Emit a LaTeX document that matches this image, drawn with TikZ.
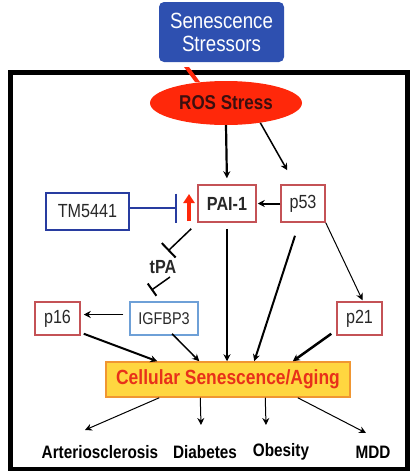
\documentclass[tikz,border=0pt]{standalone}
\usepackage{fontspec}
\setmainfont{Liberation Sans}[FakeStretch=0.85]
\usetikzlibrary{positioning,shapes.geometric,arrows.meta}
\definecolor{stressBlue}{RGB}{46,80,176}
\definecolor{rosRed}{RGB}{255,40,10}
\definecolor{rosText}{RGB}{60,15,15}
\definecolor{boxRed}{RGB}{196,82,86}
\definecolor{drugBlue}{RGB}{40,60,160}
\definecolor{igfBlue}{RGB}{110,160,215}
\definecolor{agingFill}{RGB}{255,214,64}
\definecolor{agingLine}{RGB}{240,150,50}
\definecolor{agingText}{RGB}{232,48,26}
\definecolor{textGray}{RGB}{40,40,40}
\tikzstyle{diagram} = [x=1pt, y=-1pt]
\tikzstyle{frameLine} = [line width=4.5pt, color=black]
\tikzstyle{stressorBox} = [fill=stressBlue, text=white, rounded corners=5pt, align=center, minimum width=125pt, minimum height=60pt, inner sep=0pt, font=\fontsize{22}{24}\selectfont]
\tikzstyle{rosEllipse} = [ellipse, fill=rosRed, text=rosText, minimum width=152pt, minimum height=44pt, inner sep=0pt, font=\fontsize{20}{22}\selectfont\bfseries]
\tikzstyle{geneBox} = [draw=boxRed, line width=1.5pt, fill=white, text=textGray, inner sep=0pt, font=\fontsize{19}{21}\selectfont]
\tikzstyle{drugBox} = [geneBox, draw=drugBlue]
\tikzstyle{igfBox} = [geneBox, draw=igfBlue, font=\fontsize{17}{19}\selectfont]
\tikzstyle{agingBox} = [draw=agingLine, line width=1.5pt, fill=agingFill, text=agingText, minimum width=244pt, minimum height=35pt, inner sep=0pt, font=\fontsize{20.5}{22}\selectfont\bfseries]
\tikzstyle{diseaseText} = [text=black, inner sep=0pt, font=\fontsize{18}{20}\selectfont\bfseries]
\tikzstyle{arrowLine} = [-{Stealth[length=7pt, width=7pt]}, color=black]
\tikzstyle{inhibitLine} = [color=black, line width=1.5pt]
\tikzstyle{upArrow} = [-{Triangle[length=9pt, width=11pt]}, color=rosRed, line width=4.5pt]

\begin{document}
\begin{tikzpicture}[diagram]
  \useasboundingbox (0,0) rectangle (413,471);
  \draw [frameLine] (10.5,72.5) rectangle (407.5,469.5);
  \fill [rosRed] (184,67) -- (189,67) -- (200,82) -- (195,82) -- cycle;
  \node [rosEllipse] (ros) at (226,103) {ROS Stress};
  \node [stressorBox] (stressors) at (221.5,32) {Senescence\\[-1pt]Stressors};

  \node [geneBox, minimum width=58pt, minimum height=37pt] (pai) at (227,203.5) {\bfseries PAI-1};
  \node [geneBox, minimum width=44pt, minimum height=37pt] (p53) at (303,203.5) {p53};
  \node [drugBox, minimum width=83pt, minimum height=37pt] (drug) at (87.5,211.5) {TM5441};
  \node [text=textGray, inner sep=0pt, font=\fontsize{19}{21}\selectfont\bfseries] (tpa) at (163,267) {tPA};
  \node [geneBox, minimum width=45pt, minimum height=33pt] (p16) at (57.5,318.5) {p16};
  \node [igfBox, minimum width=68pt, minimum height=33pt] (igf) at (164,318.5) {IGFBP3};
  \node [geneBox, minimum width=45pt, minimum height=33pt] (p21) at (359.5,318.5) {p21};
  \node [agingBox] (aging) at (228,379.5) {Cellular Senescence/Aging};

  \node [diseaseText] (art) at (100,452) {Arteriosclerosis};
  \node [diseaseText] (diab) at (205,452) {Diabetes};
  \node [diseaseText] (obes) at (281,452) {Obesity};
  \node [diseaseText] (mdd) at (373,452) {MDD};

  \coordinate (tmBar) at (177,208);
  \coordinate (upTail) at (189,221);
  \coordinate (upHead) at (189,194);

  \draw [arrowLine, line width=2.2pt, shorten >=6pt] (ros.south) -- (pai.north);
  \draw [arrowLine, line width=1.5pt] (ros.-30) -- ([shift={(7,-14)}]p53.north west);
  \draw [arrowLine, line width=2pt, shorten >=1pt] (p53.west) -- (pai.east);
  \draw [color=drugBlue, line width=2pt, -{Bar[width=29pt, line width=2.5pt]}] (drug.east |- tmBar) -- (tmBar);
  \draw [upArrow] (upTail) -- (upHead);
  \draw [inhibitLine, -{Bar[width=20pt, line width=2pt]}] ([shift={(-6,6)}]pai.south west) -- ([shift={(5,-16)}]tpa.center);
  \draw [inhibitLine, -{Bar[width=15pt, line width=2pt]}] ([shift={(7,10)}]tpa.center) -- ([shift={(22,-11)}]igf.north west);

  \draw [arrowLine, line width=1pt] ([shift={(-6,-4)}]igf.west) -- ([shift={(3,-4)}]p16.east);
  \draw [arrowLine, line width=1pt] (p53.south east) -- ([shift={(3,-1)}]p21.north);
  \draw [arrowLine, line width=2pt] ([shift={(3,-2)}]p16.south east) -- ([shift={(52,0)}]aging.north west);
  \draw [arrowLine, line width=1.5pt] ([shift={(8,-2)}]igf.south) -- ([shift={(94,0)}]aging.north west);
  \draw [arrowLine, line width=2.5pt] ([shift={(0,6)}]pai.south) -- (pai.south |- aging.north);
  \draw [arrowLine, line width=2pt] ([shift={(-8,13)}]p53.south) -- ([shift={(149,0)}]aging.north west);
  \draw [arrowLine, line width=2.5pt] ([shift={(-5,-2)}]p21.south west) -- ([shift={(-58,0)}]aging.north east);

  \draw [arrowLine, line width=1pt] ([shift={(54,0)}]aging.south west) -- ([shift={(-15,-22)}]art.center);
  \draw [arrowLine, line width=1pt] ([shift={(95,0)}]aging.south west) -- ([shift={(-4,-27)}]diab.center);
  \draw [arrowLine, line width=1pt] ([shift={(160,0)}]aging.south west) -- ([shift={(-15,-27)}]obes.center);
  \draw [arrowLine, line width=1pt] ([shift={(-53,0)}]aging.south east) -- ([shift={(-7,-19)}]mdd.center);
\end{tikzpicture}
\end{document}
